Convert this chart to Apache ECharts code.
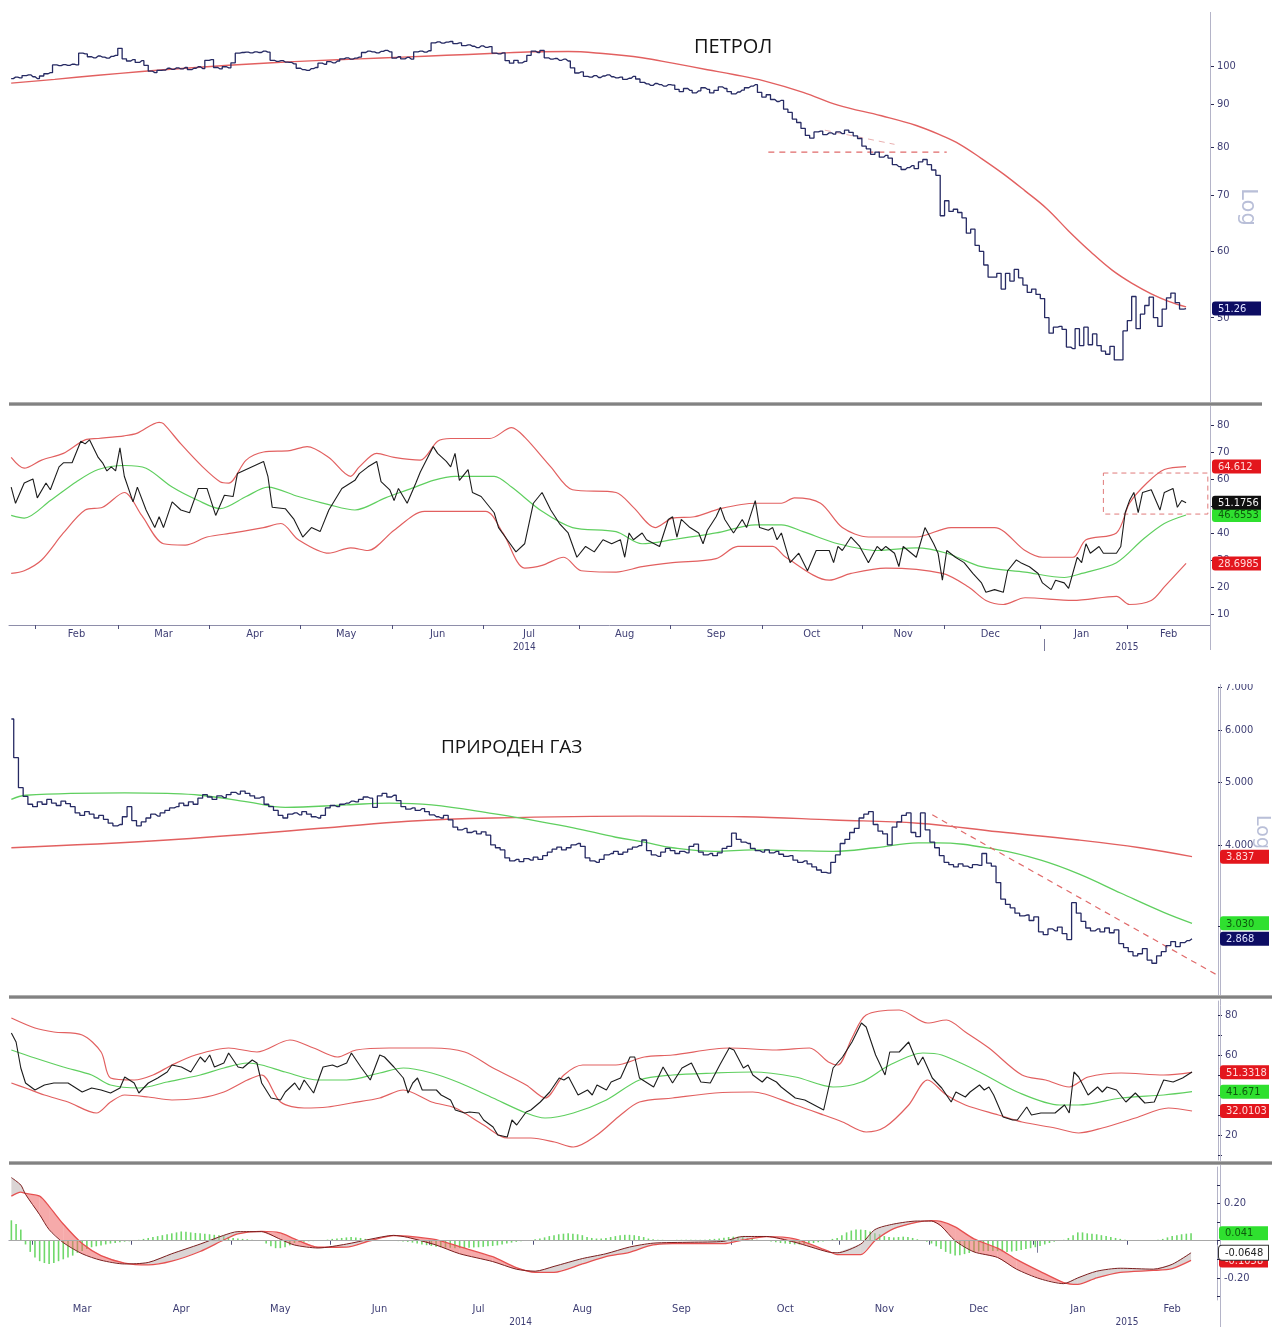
<!DOCTYPE html>
<html>
<head>
<meta charset="utf-8">
<script src="https://cdn.jsdelivr.net/npm/echarts@6/dist/echarts.min.js"></script>
<style>
html, body { margin: 0; padding: 0; background: #ffffff; }
#main { width: 1272px; height: 1327px; }
</style>
</head>
<body>
<div id="main"></div>
<script>
// ---------- Data: sessions are counted from the first trading day shown ----------

// Crude oil (ПЕТРОЛ): daily closes, one per session from 2014-01-24
const petrolClose = [
  96.6, 97.0, 96.8, 97.4, 97.6, 97.1, 96.6, 97.3, 97.9, 98.2,
  100.3, 100.1, 100.4, 100.2, 100.5, 100.3, 103.6, 103.4, 102.6, 102.3,
  102.8, 102.5, 102.2, 102.7, 103.0, 105.0, 102.0, 101.4, 101.8, 101.0,
  101.5, 100.2, 98.6, 98.2, 98.8, 98.9, 99.4, 99.1, 99.5, 99.2,
  99.6, 99.0, 99.4, 99.8, 99.3, 101.6, 101.8, 99.6, 99.2, 99.8,
  99.5, 100.9, 103.6, 103.8, 103.9, 103.7, 104.0, 103.8, 104.2, 103.9,
  101.6, 101.3, 101.5, 101.1, 101.0, 100.6, 99.4, 99.0, 98.8, 99.3,
  99.6, 100.8, 100.5, 101.2, 100.9, 101.4, 102.0, 102.3, 101.9, 102.2,
  102.5, 103.8, 104.2, 104.0, 103.7, 104.1, 104.4, 104.0, 102.2, 102.6,
  102.0, 102.4, 101.9, 104.0, 104.2, 103.9, 104.3, 106.6, 106.9, 106.5,
  106.8, 107.0, 106.4, 106.6, 105.8, 106.0, 105.6, 105.2, 105.7, 105.3,
  105.5, 103.6, 103.4, 103.7, 101.5, 100.8, 101.6, 100.9, 101.3, 103.0,
  104.2, 103.8, 104.4, 102.3, 101.9, 102.1, 101.6, 101.9, 101.4, 99.5,
  98.1, 98.4, 97.2, 97.0, 97.4, 96.9, 97.3, 97.6, 97.1, 96.8,
  97.0, 96.4, 96.7, 97.2, 96.5, 95.6, 95.2, 94.8, 95.3, 95.0,
  94.6, 95.0, 94.9, 93.8, 93.2, 94.0, 93.5, 92.9, 93.4, 94.2,
  93.8, 92.9, 93.5, 94.4, 94.0, 93.2, 92.6, 93.1, 93.6, 94.2,
  94.6, 95.0, 93.0, 91.8, 92.4, 91.2, 90.7, 91.0, 88.8, 88.0,
  86.4, 85.6, 84.2, 82.6, 82.0, 83.4, 83.6, 82.8, 83.2, 82.9,
  83.4, 83.0, 83.8, 83.3, 82.5, 81.9, 80.2, 79.6, 78.4, 78.9,
  77.8, 78.2, 77.6, 76.2, 75.8, 75.2, 75.6, 76.0, 75.4, 76.8,
  77.3, 76.2, 75.1, 74.0, 66.2, 69.0, 67.0, 67.4, 66.8, 65.8,
  63.1, 63.8, 61.0, 60.0, 57.8, 55.9, 55.9, 56.5, 54.1, 56.5,
  55.3, 57.1, 55.8, 54.7, 53.6, 54.1, 53.3, 52.7, 50.0, 47.9,
  48.7, 48.8, 48.4, 46.1, 45.9, 48.5, 46.3, 48.7, 46.4, 47.8,
  46.3, 45.6, 45.2, 46.2, 44.5, 44.5, 48.2, 49.6, 53.0, 48.5,
  50.5, 51.7, 52.9, 50.0, 48.8, 51.2, 52.8, 53.5, 52.1, 51.2,
  51.26
];
// moving average of the oil price: [session, value]
const petrolAvg = [
  [0, 95.4], [10, 96.4], [20, 97.5], [30, 98.5], [40, 99.4], [50, 100.2], [60, 100.9],
  [70, 101.5], [80, 102.0], [90, 102.5], [100, 103.0], [110, 103.5], [120, 104.0],
  [128, 104.1], [136, 103.5], [145, 102.3], [152, 100.8], [160, 99.0], [166, 97.7],
  [173, 96.0], [182, 93.0], [190, 89.8], [200, 87.2], [208, 84.9], [214, 82.5],
  [218, 80.6], [223, 77.5], [228, 74.3], [233, 70.9], [238, 67.5], [243, 63.5],
  [248, 60.0], [253, 57.0], [258, 54.8], [262, 53.4], [266, 52.3], [270, 51.5]
];
// hand-drawn support lines on the oil chart: [session, value]
const petrolSupport = [[174, 78.9], [215, 78.9]];
const petrolChannel = [[187, 83.8], [203, 80.6]];

// oil RSI with its bands: [session, value]
const petrolRsi = [
  [0, 57], [1, 51], [3, 58.5], [5, 60], [6, 53], [8, 58.5], [9, 56], [11, 64.5], [12, 66], [14, 66],
  [16, 74], [17, 73], [18, 74.5], [20, 68], [21, 66], [22, 63], [23, 64.5], [24, 63], [25, 71.5], [26, 61],
  [28, 51.5], [29, 57], [31, 48.5], [33, 42], [34, 46], [35, 42], [37, 51.5], [39, 48.5], [41, 47.5], [43, 56.5],
  [45, 56.5], [47, 46.5], [49, 54], [51, 53.5], [52, 62], [54, 63.5], [58, 66.5], [59, 61], [60, 49.5], [63, 49],
  [65, 45], [67, 38.5], [69, 42], [71, 40.5], [73, 48.5], [76, 56.5], [79, 59.5], [80, 62], [82, 64.5], [84, 66.5],
  [85, 59], [87, 56], [88, 52], [89, 56.5], [91, 51], [93, 58.5], [94, 62.5], [97, 72], [98, 69.5], [100, 66.5],
  [101, 64.5], [102, 69.5], [103, 59.5], [105, 63.5], [106, 55], [108, 53.5], [111, 47.5], [112, 42], [114, 37.5], [116, 33],
  [118, 36], [120, 51], [122, 55], [124, 48.5], [126, 43.5], [128, 40], [130, 31], [132, 35], [134, 33], [136, 37.5],
  [138, 36], [140, 37.5], [141, 31], [142, 40], [143, 37.5], [145, 40], [146, 37.5], [149, 35], [151, 45], [152, 46],
  [153, 38.5], [154, 45], [156, 42], [158, 40], [159, 36], [160, 41], [162, 46], [163, 49.5], [164, 45], [166, 40],
  [168, 45], [169, 42], [171, 52], [172, 42], [174, 41], [175, 42], [176, 37.5], [177, 40], [179, 29], [181, 32.5],
  [183, 26], [185, 33.5], [188, 33.5], [189, 29], [190, 35], [191, 33.5], [193, 38.5], [195, 35], [197, 29], [199, 35],
  [200, 33.5], [201, 35], [203, 32.5], [204, 27.5], [205, 35], [208, 31], [210, 42], [212, 36], [213, 32.5], [214, 22.5],
  [215, 33.5], [217, 31], [219, 29], [221, 25], [223, 21.5], [224, 18], [226, 19], [228, 18], [229, 26], [231, 30],
  [232, 29], [234, 27.5], [236, 25], [237, 21.5], [239, 19], [240, 22.5], [242, 21.5], [243, 19.5], [245, 31], [246, 29],
  [247, 36], [248, 32.5], [250, 35], [251, 32.5], [254, 32.5], [255, 35], [256, 47.5], [257, 52], [258, 55], [259, 47.5],
  [260, 55], [262, 56], [264, 48.5], [265, 55], [267, 56.5], [268, 49.5], [269, 52], [270, 51.1756]
];
const petrolRsiUpper = [
  [0, 68], [3, 64], [7, 67], [12, 69.5], [17, 74.5], [20, 75], [26, 76], [29, 77], [34, 81], [35, 80.5],
  [39, 73], [44, 64.5], [48, 59], [50, 58.5], [54, 67], [58, 70], [64, 70.5], [68, 72], [73, 68], [78, 61],
  [80, 64.5], [84, 69.5], [88, 68], [94, 67], [98, 74], [101, 75], [110, 75], [115, 79], [118, 75.5], [124, 64.5],
  [129, 56], [139, 55], [143, 49.5], [148, 42], [152, 45.5], [157, 46], [163, 49], [171, 51], [177, 51], [180, 53],
  [186, 51], [191, 42], [197, 38.5], [208, 38.5], [216, 42], [226, 42], [233, 33.5], [237, 31], [244, 31], [247, 37.5],
  [254, 40], [257, 51], [261, 58.5], [265, 63.5], [270, 64.612]
];
const petrolRsiLower = [
  [0, 25], [3, 26], [7, 30], [12, 40], [17, 48.5], [21, 49.5], [26, 55], [30, 46.5], [35, 36], [40, 35.5],
  [45, 38.5], [51, 40], [58, 42], [62, 43.5], [66, 37.5], [73, 32.5], [78, 34.5], [82, 33.5], [88, 41], [95, 48],
  [109, 48], [113, 40], [118, 27], [122, 28], [127, 31], [131, 26], [139, 25.5], [145, 27.5], [152, 29], [162, 30.5],
  [167, 35], [175, 35], [178, 31], [188, 22.5], [193, 25], [201, 27], [214, 25], [220, 20], [224, 15], [228, 13.5],
  [233, 16], [244, 15], [254, 16.5], [257, 13.5], [262, 15], [265, 20], [270, 28.6985]
];
const petrolRsiMid = [
  [0, 46.5], [3, 45.5], [9, 52], [15, 59], [20, 63.5], [26, 65], [31, 64], [37, 57], [43, 52], [48, 49],
  [54, 53.5], [59, 57], [66, 53.5], [73, 50.5], [79, 48.5], [86, 53], [92, 56.5], [97, 59.5], [102, 61], [111, 61],
  [115, 57], [122, 48], [129, 42], [139, 40.5], [145, 36], [152, 37.5], [162, 40], [171, 43], [177, 43], [182, 40.5],
  [190, 36], [199, 33.5], [208, 34.5], [215, 32.5], [223, 27.5], [233, 25.5], [242, 23.5], [246, 25], [254, 29],
  [260, 37.5], [265, 43.5], [270, 46.6553]
];
// consolidation box on the oil RSI: [session, value] corners
const petrolRsiBox = [[251, 62.2], [275, 47.0]];

// Natural gas (ПРИРОДЕН ГАЗ): daily closes, one per session from 2014-02-24
const gasClose = [
  6.25, 5.45, 4.90, 4.75, 4.62, 4.58, 4.66, 4.62, 4.70, 4.64,
  4.60, 4.67, 4.63, 4.58, 4.48, 4.44, 4.50, 4.46, 4.40, 4.44,
  4.38, 4.32, 4.28, 4.30, 4.42, 4.58, 4.36, 4.28, 4.34, 4.40,
  4.46, 4.43, 4.48, 4.52, 4.56, 4.58, 4.64, 4.60, 4.66, 4.62,
  4.72, 4.78, 4.74, 4.70, 4.76, 4.73, 4.78, 4.82, 4.79, 4.84,
  4.80, 4.76, 4.72, 4.74, 4.62, 4.58, 4.52, 4.44, 4.40, 4.46,
  4.48, 4.45, 4.50, 4.46, 4.42, 4.40, 4.44, 4.56, 4.60, 4.58,
  4.62, 4.64, 4.67, 4.66, 4.70, 4.74, 4.72, 4.57, 4.76, 4.80,
  4.74, 4.77, 4.68, 4.58, 4.54, 4.56, 4.52, 4.55, 4.50, 4.45,
  4.42, 4.40, 4.44, 4.37, 4.26, 4.22, 4.24, 4.18, 4.20, 4.16,
  4.19, 4.14, 4.00, 3.96, 3.93, 3.82, 3.78, 3.80, 3.77, 3.81,
  3.79, 3.83, 3.80, 3.85, 3.90, 3.94, 3.97, 3.93, 3.96, 4.00,
  4.02, 3.98, 3.82, 3.78, 3.76, 3.80, 3.86, 3.88, 3.91, 3.87,
  3.90, 3.94, 3.97, 3.99, 4.07, 3.92, 3.86, 3.84, 3.90, 3.95,
  3.92, 3.88, 3.91, 3.89, 3.98, 4.01, 3.90, 3.86, 3.88, 3.85,
  3.89, 3.95, 3.98, 4.17, 4.08, 4.04, 4.02, 3.95, 3.92, 3.90,
  3.93, 3.89, 3.91, 3.87, 3.84, 3.85, 3.79, 3.76, 3.78, 3.74,
  3.70, 3.66, 3.63, 3.62, 3.76, 3.86, 4.02, 4.08, 4.18, 4.24,
  4.40, 4.46, 4.50, 4.30, 4.20, 4.16, 4.00, 4.26, 4.34, 4.44,
  4.48, 4.18, 4.12, 4.48, 4.22, 4.04, 3.96, 3.85, 3.76, 3.73,
  3.70, 3.74, 3.71, 3.69, 3.73, 3.72, 3.88, 3.75, 3.71, 3.50,
  3.30, 3.24, 3.20, 3.14, 3.11, 3.12, 3.06, 3.10, 2.94, 2.91,
  2.97, 2.95, 2.99, 2.92, 2.86, 3.26, 3.14, 3.05, 2.98, 2.95,
  2.97, 2.94, 2.98, 2.93, 2.96, 2.82, 2.78, 2.74, 2.70, 2.72,
  2.77, 2.66, 2.63, 2.70, 2.74, 2.80, 2.84, 2.79, 2.83, 2.85,
  2.868
];
// slow (red) and fast (green) moving averages of the gas price: [session, value]
const gasAvgSlow = [
  [0, 3.96], [33, 4.07], [67, 4.25], [84, 4.35], [102, 4.40], [133, 4.43], [155, 4.42],
  [174, 4.37], [192, 4.32], [209, 4.19], [226, 4.07], [239, 3.96], [250, 3.837]
];
const gasAvgFast = [
  [0, 4.70], [3, 4.77], [24, 4.81], [33, 4.80], [40, 4.77], [50, 4.66], [58, 4.57], [71, 4.61],
  [80, 4.64], [89, 4.61], [102, 4.47], [110, 4.37], [119, 4.25], [128, 4.11], [134, 4.04], [140, 3.96],
  [149, 3.91], [157, 3.93], [166, 3.92], [174, 3.91], [183, 3.96], [192, 4.03], [196, 4.03], [209, 3.93],
  [218, 3.79], [226, 3.61], [235, 3.37], [244, 3.15], [250, 3.030]
];
// falling resistance line drawn on the gas chart
const gasTrend = [[195, 4.45], [255, 2.53]];

// gas RSI with its bands: [session, value]
const gasRsi = [
  [0, 71], [1, 66.5], [2, 53.5], [3, 46], [5, 42.5], [7, 45], [9, 46], [12, 46], [15, 41.5], [17, 43.5],
  [19, 42.5], [21, 41], [23, 43.5], [24, 49], [26, 46], [27, 41], [29, 46], [31, 48.5], [33, 51.5], [34, 55],
  [36, 54], [38, 51.5], [40, 59], [41, 56.5], [42, 60], [43, 54], [45, 56], [46, 61], [48, 54], [49, 53.5],
  [51, 57.5], [52, 56], [53, 46], [55, 38.5], [57, 37.5], [58, 41.5], [60, 46], [61, 42.5], [62, 47.5], [64, 41],
  [66, 54], [68, 55], [69, 54], [71, 56], [72, 61], [74, 54], [76, 47.5], [78, 60], [79, 59], [81, 54],
  [83, 48.5], [84, 41], [85, 46], [86, 48.5], [87, 42.5], [90, 42.5], [91, 40], [93, 37.5], [94, 32.5], [96, 31],
  [97, 31.5], [99, 31], [100, 27.5], [102, 24], [103, 20], [105, 19], [106, 27.5], [107, 25], [109, 31.5], [110, 32.5],
  [112, 36.5], [114, 41.5], [116, 48.5], [117, 47.5], [118, 49], [120, 40], [122, 42.5], [123, 40], [124, 45], [126, 42.5],
  [127, 46.5], [129, 48.5], [131, 59], [132, 59], [133, 48.5], [136, 44], [138, 54], [140, 46], [142, 53.5], [144, 56],
  [146, 46.5], [148, 46], [150, 55], [152, 63.5], [153, 62.5], [155, 53.5], [156, 55], [157, 50], [159, 46.5], [160, 49],
  [162, 46.5], [163, 44], [166, 38.5], [168, 37.5], [172, 32.5], [174, 53.5], [176, 59], [178, 66.5], [180, 76], [181, 74],
  [183, 60], [185, 50], [186, 61.5], [188, 61.5], [190, 66.5], [192, 55], [193, 59], [195, 48.5], [197, 43.5], [199, 36.5],
  [200, 41.5], [202, 39], [203, 41.5], [205, 45], [206, 42.5], [207, 44], [208, 40], [210, 29], [212, 27.5], [213, 27.5],
  [215, 34], [216, 30], [218, 31], [221, 31], [223, 35], [224, 31], [225, 51.5], [226, 49], [228, 40], [230, 44],
  [231, 41.5], [232, 44], [234, 42.5], [236, 36.5], [238, 41], [240, 36], [242, 36.5], [244, 47.5], [246, 46.5], [248, 48.5],
  [250, 51.5]
];
const gasRsiUpper = [
  [0, 78.5], [5, 73.5], [9, 71.5], [15, 70], [19, 61.5], [21, 48.5], [26, 47.5], [30, 50], [34, 55], [39, 60],
  [46, 63.5], [52, 61.5], [59, 67.5], [64, 63.5], [69, 59], [73, 62.5], [80, 63.5], [89, 63.5], [96, 61.5], [102, 53.5],
  [109, 45], [113, 38.5], [117, 50], [121, 55], [128, 55], [134, 59], [140, 60], [152, 63.5], [162, 62.5], [169, 63.5],
  [173, 56.5], [175, 55], [178, 68.5], [181, 80], [188, 82.5], [194, 76], [198, 77.5], [202, 71.5], [207, 63.5], [214, 50],
  [219, 47.5], [224, 44], [228, 49], [235, 51], [244, 50], [250, 51.3318]
];
const gasRsiLower = [
  [0, 46], [3, 43.5], [7, 40], [12, 36.5], [18, 31], [21, 36.5], [24, 40], [29, 39], [34, 37.5], [40, 38.5],
  [45, 41.5], [50, 47.5], [53, 50], [57, 36.5], [62, 33.5], [67, 34], [72, 36], [78, 38.5], [83, 42.5], [89, 36.5],
  [94, 33.5], [100, 25], [105, 18.5], [110, 18.5], [115, 16.5], [119, 14], [124, 20], [129, 30], [133, 36.5], [140, 38.5],
  [149, 41], [157, 41.5], [166, 35], [172, 30], [176, 26.5], [181, 21.5], [185, 24], [190, 35], [194, 47.5], [198, 40],
  [202, 35], [209, 30], [214, 26.5], [221, 23.5], [226, 21], [231, 23.5], [238, 28.5], [245, 33.5], [250, 32.0103]
];
const gasRsiMid = [
  [0, 62.5], [5, 58.5], [11, 54], [17, 50], [21, 45], [27, 43.5], [33, 46.5], [40, 50], [45, 53.5], [50, 56],
  [53, 55], [58, 51.5], [65, 47.5], [71, 47.5], [78, 51], [83, 53.5], [89, 51], [95, 46], [102, 38.5], [109, 31],
  [113, 28.5], [119, 31], [126, 37.5], [133, 47.5], [140, 50], [149, 51], [157, 51.5], [166, 49], [174, 44], [180, 46.5],
  [186, 55], [193, 61], [197, 60], [205, 51.5], [213, 41.5], [222, 35], [226, 35], [235, 38.5], [244, 40], [250, 41.671]
];

// gas MACD: line and signal sampled on the same sessions, histogram daily
const macdDay = [0, 2, 3, 6, 8, 11, 15, 19, 24, 29, 34, 40, 45, 48, 53, 57, 60, 65, 71, 76, 81, 84, 90, 95, 102,
  107, 111, 115, 121, 126, 131, 136, 144, 151, 155, 160, 166, 173, 175, 180, 183, 187, 192, 195, 197, 200, 204,
  209, 213, 218, 223, 226, 230, 235, 242, 246, 250];
const macdLine = [0.34, 0.30, 0.25, 0.14, 0.06, -0.01, -0.07, -0.105, -0.125, -0.117, -0.07, -0.018, 0.029, 0.049, 0.049,
  0.008, -0.023, -0.039, -0.018, 0.008, 0.029, 0.018, -0.023, -0.07, -0.112, -0.153, -0.164, -0.138, -0.096, -0.07,
  -0.034, -0.013, -0.008, -0.003, 0.023, 0.023, -0.008, -0.06, -0.065, -0.018, 0.06, 0.09, 0.106, 0.106, 0.08, 0.0,
  -0.06, -0.09, -0.153, -0.205, -0.231, -0.2, -0.164, -0.148, -0.153, -0.127, -0.0648];
const macdSignal = [0.24, 0.262, 0.255, 0.24, 0.185, 0.09, -0.015, -0.08, -0.12, -0.13, -0.11, -0.058, 0.004, 0.037, 0.05,
  0.042, 0.01, -0.035, -0.034, 0.0, 0.028, 0.025, 0.006, -0.032, -0.086, -0.145, -0.17, -0.17, -0.125, -0.085,
  -0.062, -0.022, -0.014, -0.016, 0.004, 0.022, 0.01, -0.055, -0.075, -0.075, 0.0, 0.065, 0.1, 0.108, 0.104, 0.075,
  0.01, -0.04, -0.1, -0.165, -0.225, -0.235, -0.2, -0.17, -0.16, -0.15, -0.1058];
const macdHist = [
  0.11, 0.09, 0.06, -0.02, -0.06, -0.09, -0.11, -0.12, -0.125, -0.12,
  -0.11, -0.10, -0.09, -0.08, -0.065, -0.055, -0.045, -0.035, -0.03, -0.025,
  -0.02, -0.015, -0.012, -0.008, -0.005, -0.003, 0.002, 0.005, 0.01, 0.015,
  0.02, 0.025, 0.03, 0.035, 0.04, 0.045, 0.05, 0.048, 0.045, 0.042,
  0.04, 0.038, 0.035, 0.032, 0.03, 0.025, 0.02, 0.015, 0.012, 0.01,
  0.008, 0.006, 0.004, 0.0, -0.015, -0.03, -0.04, -0.04, -0.035, -0.025,
  -0.012, -0.008, -0.005, -0.003, -0.002, 0.0, 0.003, 0.006, 0.01, 0.012,
  0.015, 0.018, 0.02, 0.018, 0.015, 0.01, 0.006, 0.003, 0.002, 0.001,
  0.0, -0.001, -0.002, -0.004, -0.006, -0.01, -0.015, -0.02, -0.024, -0.028,
  -0.032, -0.035, -0.037, -0.038, -0.04, -0.04, -0.04, -0.038, -0.036, -0.035,
  -0.033, -0.03, -0.028, -0.025, -0.02, -0.015, -0.01, -0.006, -0.003, 0.0,
  0.004, 0.008, 0.012, 0.018, 0.025, 0.03, 0.035, 0.038, 0.04, 0.038,
  0.035, 0.03, 0.02, 0.015, 0.012, 0.012, 0.015, 0.02, 0.025, 0.03,
  0.032, 0.032, 0.03, 0.025, 0.02, 0.012, 0.008, 0.006, 0.005, 0.004,
  0.004, 0.005, 0.005, 0.006, 0.006, 0.005, 0.005, 0.006, 0.008, 0.01,
  0.012, 0.016, 0.02, 0.022, 0.022, 0.02, 0.015, 0.01, 0.006, 0.003,
  0.0, -0.004, -0.008, -0.012, -0.015, -0.018, -0.02, -0.02, -0.018, -0.015,
  -0.012, -0.008, -0.004, 0.0, 0.01, 0.015, 0.03, 0.045, 0.055, 0.06,
  0.06, 0.058, 0.05, 0.04, 0.035, 0.025, 0.02, 0.018, 0.02, 0.022,
  0.02, 0.015, 0.008, 0.0, -0.005, -0.015, -0.03, -0.045, -0.06, -0.07,
  -0.08, -0.078, -0.072, -0.066, -0.06, -0.058, -0.056, -0.055, -0.055, -0.056,
  -0.058, -0.06, -0.058, -0.055, -0.05, -0.045, -0.04, -0.035, -0.028, -0.02,
  -0.012, -0.005, 0.0, 0.005, 0.015, 0.03, 0.045, 0.045, 0.04, 0.038,
  0.035, 0.03, 0.025, 0.02, 0.015, 0.01, 0.006, 0.004, 0.003, 0.002,
  0.002, 0.003, 0.004, 0.006, 0.01, 0.018, 0.025, 0.03, 0.035, 0.038,
  0.041
];

// axis tick values
const petrolPriceTicks = [50, 60, 70, 80, 90, 100];
const rsiTicks = [10, 20, 30, 40, 50, 60, 70, 80];
const gasRsiLabels = [20, 40, 60, 80];
const gasPriceTicks = [3, 4, 5, 6, 7];
const macdTicks = [-0.3, -0.2, -0.1, 0, 0.1, 0.2, 0.3];
const macdLabels = [-0.2, 0.2];
const MONTHS = ['Jan', 'Feb', 'Mar', 'Apr', 'May', 'Jun', 'Jul', 'Aug', 'Sep', 'Oct', 'Nov', 'Dec'];

// exchange holidays skipped by the session calendar
const HOLIDAYS = ['2014-02-17', '2014-04-18', '2014-05-26', '2014-07-04', '2014-09-01',
  '2014-11-27', '2014-12-25', '2015-01-01', '2015-01-19', '2015-02-16'];

// ---------- Helpers ----------
function sessions(from, to) {
  const out = [];
  const d = new Date(from + 'T00:00:00Z');
  const end = new Date(to + 'T00:00:00Z');
  while (d <= end) {
    const wd = d.getUTCDay();
    const s = d.toISOString().slice(0, 10);
    if (wd !== 0 && wd !== 6 && HOLIDAYS.indexOf(s) < 0) out.push(s);
    d.setUTCDate(d.getUTCDate() + 1);
  }
  return out;
}
function groupBy(days, len) {
  const groups = [];
  days.forEach((d, i) => {
    const key = d.slice(0, len);
    const g = groups[groups.length - 1];
    if (g && g.key === key) g.last = i; else groups.push({ key, first: i, last: i });
  });
  return groups;
}
function monthMarks(days) {
  const g = groupBy(days, 7);
  return {
    ticks: new Set(g.slice(1).map(x => x.first)),
    labels: new Set(g.filter(x => x.last - x.first >= 9).map(x => x.first + Math.floor((x.last - x.first) / 2)))
  };
}
function yearMarks(days) {
  const g = groupBy(days, 4);
  return {
    ticks: new Set(g.slice(1).map(x => x.first)),
    labels: new Set(g.map(x => Math.floor((x.first + x.last) / 2)))
  };
}
const ln = Math.log;
const lnPairs = arr => arr.map(p => [p[0], ln(p[1])]);
const lastOf = arr => { const e = arr[arr.length - 1]; return Array.isArray(e) ? e[1] : e; };

const petrolDays = sessions('2014-01-24', '2015-02-27');
const gasDays = sessions('2014-02-24', '2015-02-27');

// ---------- Layout and style ----------
const AXIS_FONT = "'Liberation Sans Narrow', 'DejaVu Sans Condensed', 'Liberation Sans', sans-serif";
const LABEL_COLOR = '#3e3e74';
const NAVY = '#262a63';
const RED = '#e26060';
const GREEN = '#5fcf5f';
const BLACK = '#1c1c1c';

const G = {
  petrol:    { left: 9, top: 15,   width: 1201, height: 385 },
  petrolRsi: { left: 9, top: 408,  width: 1201, height: 217 },
  gas:       { left: 9, top: 687,  width: 1211, height: 308 },
  gasRsi:    { left: 9, top: 1001, width: 1211, height: 159 },
  macd:      { left: 9, top: 1167, width: 1211, height: 138 }
};
const RANGE = {
  petrol: [ln(39.85), ln(115.1)],
  petrolRsi: [5.9, 86.3],
  gas: [ln(2.35), ln(7.0)],
  gasRsi: [7.5, 87],
  macd: [-0.319, 0.397]
};

function hiddenX(grid, days) {
  return { type: 'category', gridIndex: grid, data: days, show: false, boundaryGap: true };
}
function monthX(grid, days) {
  const m = monthMarks(days);
  return {
    type: 'category', gridIndex: grid, data: days, position: 'bottom', boundaryGap: true,
    axisLine: { lineStyle: { color: '#8e8eaa', width: 1 } },
    axisTick: { show: true, interval: i => m.ticks.has(i), length: 4, lineStyle: { color: '#50507a' } },
    axisLabel: {
      interval: i => m.labels.has(i), formatter: v => MONTHS[+v.slice(5, 7) - 1],
      color: LABEL_COLOR, fontSize: 11, fontFamily: AXIS_FONT, margin: 4
    },
    splitLine: { show: false }
  };
}
// year captions under the month row, with a long mark at the turn of the year
function yearX(grid, days) {
  const y = yearMarks(days);
  return {
    type: 'category', gridIndex: grid, data: days, position: 'bottom', offset: 14, boundaryGap: false,
    axisLine: { show: false },
    axisTick: { show: true, interval: i => y.ticks.has(i), length: 12, lineStyle: { color: '#7a7a9a' } },
    axisLabel: {
      interval: i => y.labels.has(i), formatter: v => v.slice(0, 4),
      color: LABEL_COLOR, fontSize: 10, fontFamily: AXIS_FONT, margin: 3
    },
    splitLine: { show: false }
  };
}
function valueY(grid, range, ticks, labels, fmt) {
  return {
    type: 'value', gridIndex: grid, position: 'right', min: range[0], max: range[1],
    splitLine: { show: false },
    axisLine: { show: true, lineStyle: { color: '#b4b4c8', width: 1 } },
    axisTick: { show: true, length: 4, customValues: ticks, lineStyle: { color: '#2b2b55' } },
    axisLabel: { customValues: labels, formatter: fmt, color: LABEL_COLOR, fontSize: 11, fontFamily: AXIS_FONT, margin: 7 }
  };
}
function tagStyle(bg, fg, border) {
  return {
    backgroundColor: bg, color: fg, borderColor: border || bg, borderWidth: border ? 1 : 0,
    padding: [2, 3, 1, 6], width: 40, fontSize: 11, lineHeight: 12, fontFamily: AXIS_FONT,
    borderRadius: [3, 0, 0, 3]
  };
}
const TAG_RICH = {
  navy: tagStyle('#0d0d63', '#dfe3ff'),
  red: tagStyle('#e3161d', '#ffd9d9'),
  green: tagStyle('#2fe02f', '#0d5a0d'),
  black: tagStyle('#101010', '#f4f4f4'),
  white: tagStyle('#ffffff', '#222222', '#333333')
};
// value tags on the right axis; tags = [{at, text, style}]
function tagY(grid, range, tags, z) {
  return {
    type: 'value', gridIndex: grid, position: 'right', min: range[0], max: range[1], z: z || 10,
    splitLine: { show: false }, axisLine: { show: false }, axisTick: { show: false },
    axisLabel: {
      customValues: tags.map(t => t.at), margin: 2, rich: TAG_RICH, hideOverlap: false,
      formatter: v => {
        let best = tags[0];
        tags.forEach(t => { if (Math.abs(t.at - v) < Math.abs(best.at - v)) best = t; });
        return '{' + best.style + '|' + best.text + '}';
      }
    }
  };
}

function line(xi, yi, data, color, width, extra) {
  return Object.assign({
    type: 'line', xAxisIndex: xi, yAxisIndex: yi, data, showSymbol: false, symbol: 'none',
    lineStyle: { color, width }, itemStyle: { color }, silent: true, z: 2
  }, extra || {});
}

// ---------- Axes ----------
const xAxes = [
  hiddenX(0, petrolDays),
  monthX(1, petrolDays),
  yearX(1, petrolDays),
  hiddenX(2, gasDays),
  hiddenX(3, gasDays),
  monthX(4, gasDays),
  yearX(4, gasDays)
];
const yAxes = [
  valueY(0, RANGE.petrol, petrolPriceTicks.map(ln), petrolPriceTicks.map(ln), v => String(Math.round(Math.exp(v)))),
  tagY(0, RANGE.petrol, [{ at: ln(lastOf(petrolClose)), text: lastOf(petrolClose).toFixed(2), style: 'navy' }]),
  valueY(1, RANGE.petrolRsi, rsiTicks, rsiTicks, v => String(Math.round(v))),
  tagY(1, RANGE.petrolRsi, [
    { at: lastOf(petrolRsiUpper), text: String(lastOf(petrolRsiUpper)), style: 'red' },
    { at: lastOf(petrolRsiMid), text: String(lastOf(petrolRsiMid)), style: 'green' },
    { at: lastOf(petrolRsiLower), text: String(lastOf(petrolRsiLower)), style: 'red' }
  ]),
  tagY(1, RANGE.petrolRsi, [
    { at: lastOf(petrolRsi), text: String(lastOf(petrolRsi)), style: 'black' }
  ], 11),
  valueY(2, RANGE.gas, gasPriceTicks.map(ln), gasPriceTicks.map(ln), v => Math.exp(v).toFixed(3)),
  tagY(2, RANGE.gas, [
    { at: ln(lastOf(gasAvgSlow)), text: lastOf(gasAvgSlow).toFixed(3), style: 'red' },
    { at: ln(lastOf(gasAvgFast)), text: lastOf(gasAvgFast).toFixed(3), style: 'green' },
    { at: ln(lastOf(gasClose)), text: lastOf(gasClose).toFixed(3), style: 'navy' }
  ]),
  valueY(3, RANGE.gasRsi, rsiTicks, gasRsiLabels, v => String(Math.round(v))),
  tagY(3, RANGE.gasRsi, [
    { at: lastOf(gasRsiUpper), text: String(lastOf(gasRsiUpper)), style: 'red' },
    { at: lastOf(gasRsiMid), text: String(lastOf(gasRsiMid)), style: 'green' },
    { at: lastOf(gasRsiLower), text: String(lastOf(gasRsiLower)), style: 'red' }
  ]),
  valueY(4, RANGE.macd, macdTicks, macdLabels, v => v.toFixed(2)),
  tagY(4, RANGE.macd, [
    { at: lastOf(macdHist), text: String(lastOf(macdHist)), style: 'green' },
    { at: lastOf(macdSignal), text: String(lastOf(macdSignal)), style: 'red' }
  ]),
  tagY(4, RANGE.macd, [
    { at: lastOf(macdLine), text: String(lastOf(macdLine)), style: 'white' }
  ], 11)
];

// ---------- Series ----------
const dashed = [6, 5];
const RED_FILL = 'rgba(238, 100, 100, 0.55)';
const GRAY_FILL = 'rgba(190, 178, 178, 0.55)';

const series = [
  // oil price panel
  line(0, 0, lnPairs(petrolAvg), RED, 1.4, { smooth: 0.4 }),
  line(0, 0, petrolClose.map((v, i) => [i, ln(v)]), NAVY, 1.3, { step: 'middle', z: 3 }),
  line(0, 0, lnPairs(petrolSupport), '#e06a6a', 1.2, { lineStyle: { color: '#e06a6a', width: 1.2, type: dashed } }),
  line(0, 0, lnPairs(petrolChannel), '#eab0b0', 1, { lineStyle: { color: '#eab0b0', width: 1, type: dashed } }),
  // oil RSI panel
  line(1, 2, petrolRsiUpper, RED, 1.2, { smooth: 0.3 }),
  line(1, 2, petrolRsiLower, RED, 1.2, { smooth: 0.3 }),
  line(1, 2, petrolRsiMid, GREEN, 1.2, { smooth: 0.3 }),
  line(1, 2, petrolRsi, BLACK, 1.1, {
    z: 3,
    markArea: {
      silent: true,
      itemStyle: { color: 'rgba(0,0,0,0)', borderColor: '#e07a7a', borderWidth: 1, borderType: [5, 4] },
      data: [[{ coord: petrolRsiBox[0] }, { coord: petrolRsiBox[1] }]]
    }
  }),
  // gas price panel
  line(3, 5, lnPairs(gasAvgSlow), RED, 1.4, { smooth: 0.4 }),
  line(3, 5, lnPairs(gasAvgFast), GREEN, 1.3, { smooth: 0.4 }),
  line(3, 5, gasClose.map((v, i) => [i, ln(v)]), NAVY, 1.3, { step: 'middle', z: 3 }),
  line(3, 5, lnPairs(gasTrend), '#e06a6a', 1.2, { lineStyle: { color: '#e06a6a', width: 1.2, type: dashed } }),
  // gas RSI panel
  line(4, 7, gasRsiUpper, RED, 1.2, { smooth: 0.3 }),
  line(4, 7, gasRsiLower, RED, 1.2, { smooth: 0.3 }),
  line(4, 7, gasRsiMid, GREEN, 1.2, { smooth: 0.3 }),
  line(4, 7, gasRsi, BLACK, 1.1, { z: 3 }),
  // gas MACD panel
  {
    type: 'bar', xAxisIndex: 5, yAxisIndex: 9, data: macdHist, barWidth: 1.6, silent: true,
    itemStyle: { color: '#6fd86a' }, z: 1,
    markLine: {
      silent: true, symbol: 'none', label: { show: false },
      lineStyle: { color: '#a8a8a8', type: 'solid', width: 1 },
      data: [{ yAxis: 0 }]
    }
  },
  {
    type: 'custom', xAxisIndex: 5, yAxisIndex: 9, silent: true, clip: true, z: 2,
    data: macdDay.map((d, i) => [d, macdLine[i], macdSignal[i]]),
    encode: { x: 0, y: [1, 2] },
    renderItem: (params, api) => {
      const i = params.dataIndex;
      if (i >= macdDay.length - 1) return null;
      const x0 = macdDay[i], x1 = macdDay[i + 1];
      const m0 = api.coord([x0, macdLine[i]]), m1 = api.coord([x1, macdLine[i + 1]]);
      const s0 = api.coord([x0, macdSignal[i]]), s1 = api.coord([x1, macdSignal[i + 1]]);
      const d0 = macdLine[i] - macdSignal[i], d1 = macdLine[i + 1] - macdSignal[i + 1];
      const poly = (pts, d) => ({ type: 'polygon', shape: { points: pts }, style: { fill: d < 0 ? RED_FILL : GRAY_FILL } });
      if (d0 * d1 >= 0) return poly([m0, m1, s1, s0], d0 + d1);
      const t = d0 / (d0 - d1);
      const c = [m0[0] + t * (m1[0] - m0[0]), m0[1] + t * (m1[1] - m0[1])];
      return { type: 'group', children: [poly([m0, c, s0], d0), poly([c, m1, s1], d1)] };
    }
  },
  line(5, 9, macdDay.map((d, i) => [d, macdSignal[i]]), '#e65050', 1.3, { smooth: 0.25, z: 3 }),
  line(5, 9, macdDay.map((d, i) => [d, macdLine[i]]), '#7a1d1d', 1, { smooth: 0.25, z: 4 })
];

// ---------- Decorations ----------
const sepFill = new echarts.graphic.LinearGradient(0, 0, 0, 1, [
  { offset: 0, color: '#c4c4c4' }, { offset: 0.5, color: '#6e6e6e' }, { offset: 1, color: '#b8b8b8' }
]);
const graphic = [
  { type: 'line', shape: { x1: 1210.5, y1: 12, x2: 1210.5, y2: 650 }, style: { stroke: '#b4b4c8', lineWidth: 1 }, z: 1 },
  { type: 'line', shape: { x1: 1220.5, y1: 684, x2: 1220.5, y2: 1327 }, style: { stroke: '#b4b4c8', lineWidth: 1 }, z: 1 },
  { type: 'rect', shape: { x: 9, y: 402, width: 1253, height: 4 }, style: { fill: sepFill }, z: 20 },
  { type: 'rect', shape: { x: 9, y: 995, width: 1263, height: 4 }, style: { fill: sepFill }, z: 20 },
  { type: 'rect', shape: { x: 9, y: 1161, width: 1263, height: 4 }, style: { fill: sepFill }, z: 20 },
  { type: 'rect', shape: { x: 0, y: 651, width: 1272, height: 33 }, style: { fill: '#ffffff' }, z: 30 },
  { type: 'text', x: 1247, y: 207, rotation: -Math.PI / 2,
    style: { text: 'Log', fill: '#b9bfd8', font: "21px 'DejaVu Sans'", align: 'center', verticalAlign: 'middle' }, z: 5 },
  { type: 'text', x: 1262, y: 832, rotation: -Math.PI / 2,
    style: { text: 'Log', fill: '#b9bfd8', font: "19px 'DejaVu Sans'", align: 'center', verticalAlign: 'middle' }, z: 0 }
];

const chart = echarts.init(document.getElementById('main'), null, { renderer: 'canvas' });
chart.setOption({
  backgroundColor: '#ffffff',
  animation: false,
  textStyle: { fontFamily: AXIS_FONT },
  title: [
    { text: 'ПЕТРОЛ', left: 689, top: 32, textStyle: { fontFamily: "'Open Sans', 'Noto Sans', sans-serif", fontSize: 20, fontWeight: 'normal', color: '#141414' } },
    { text: 'ПРИРОДЕН ГАЗ', left: 436, top: 733, textStyle: { fontFamily: "'Open Sans', 'Noto Sans', sans-serif", fontSize: 19, fontWeight: 'normal', color: '#141414' } }
  ],
  grid: [G.petrol, G.petrolRsi, G.gas, G.gasRsi, G.macd].map(g => Object.assign({ containLabel: false, show: false }, g)),
  xAxis: xAxes,
  yAxis: yAxes,
  series,
  graphic
});
</script>
</body>
</html>
